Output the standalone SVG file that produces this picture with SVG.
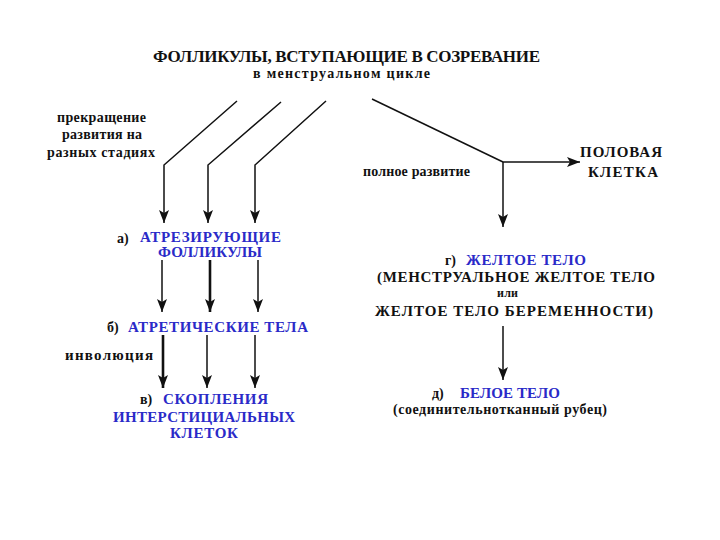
<svg xmlns="http://www.w3.org/2000/svg" width="720" height="540" viewBox="0 0 720 540" font-family="'Liberation Serif', 'DejaVu Serif', serif">
<defs>
<style>
text{font-family:'Liberation Serif','DejaVu Serif',serif;font-weight:700;fill:#111;}
.b{fill:#2a2ac8;}
.ln{fill:none;stroke:#111;stroke-width:1.5;}
.th{stroke-width:2.6;}
</style>
<marker id="ah" viewBox="0 0 13 10" refX="13" refY="5" markerWidth="13" markerHeight="10" markerUnits="userSpaceOnUse" orient="auto">
<path d="M0,0 L13,5 L0,10 L3,5 z" fill="#111"/>
</marker>
</defs>
<rect width="720" height="540" fill="#fff"/>

<g id="title">
<text x="153" y="62" font-size="17" textLength="387">ФОЛЛИКУЛЫ, ВСТУПАЮЩИЕ В СОЗРЕВАНИЕ</text>
<text x="253" y="78" font-size="14" textLength="177">в менструальном цикле</text>
</g>

<g id="note-stop">
<text x="57" y="122" font-size="14" textLength="89">прекращение</text>
<text x="62" y="139" font-size="14" textLength="80">развития на</text>
<text x="47" y="157" font-size="14" textLength="108">разных стадиях</text>
</g>

<g id="node-a">
<text x="117" y="243" font-size="14">а)</text>
<text class="b" x="140" y="242" font-size="15" textLength="141">АТРЕЗИРУЮЩИЕ</text>
<text class="b" x="158" y="257" font-size="15" textLength="104">ФОЛЛИКУЛЫ</text>
</g>

<g id="node-b">
<text x="107" y="332" font-size="14">б)</text>
<text class="b" x="128" y="332" font-size="15" textLength="180">АТРЕТИЧЕСКИЕ ТЕЛА</text>
</g>

<g id="note-involution">
<text x="65" y="360" font-size="15" textLength="88">инволюция</text>
</g>

<g id="node-c">
<text x="140" y="404" font-size="14">в)</text>
<text class="b" x="163" y="404" font-size="15" textLength="105">СКОПЛЕНИЯ</text>
<text class="b" x="113" y="422" font-size="15" textLength="182">ИНТЕРСТИЦИАЛЬНЫХ</text>
<text class="b" x="170" y="438" font-size="15" textLength="68">КЛЕТОК</text>
</g>

<g id="note-full">
<text x="363" y="176" font-size="14" textLength="107">полное развитие</text>
</g>

<g id="node-germ">
<text x="580" y="157" font-size="15" textLength="82">ПОЛОВАЯ</text>
<text x="588" y="177" font-size="15" textLength="70">КЛЕТКА</text>
</g>

<g id="node-g">
<text x="445" y="265" font-size="14">г)</text>
<text class="b" x="466" y="265" font-size="15" textLength="120">ЖЕЛТОЕ ТЕЛО</text>
<text x="377" y="282" font-size="15" textLength="278">(МЕНСТРУАЛЬНОЕ ЖЕЛТОЕ ТЕЛО</text>
<text x="497" y="297" font-size="12" textLength="21">или</text>
<text x="375" y="316" font-size="15" textLength="278">ЖЕЛТОЕ ТЕЛО БЕРЕМЕННОСТИ)</text>
</g>

<g id="node-d">
<text x="432" y="398" font-size="14">д)</text>
<text class="b" x="460" y="398" font-size="15" textLength="100">БЕЛОЕ ТЕЛО</text>
<text x="393" y="414" font-size="14" textLength="214">(соединительнотканный рубец)</text>
</g>

<g id="connectors">
<polyline class="ln" points="237,101 164,165 164,223" marker-end="url(#ah)"/>
<polyline class="ln" points="281,102 208,165 208,223" marker-end="url(#ah)"/>
<polyline class="ln" points="326,101 255,165 255,223" marker-end="url(#ah)"/>
<line class="ln" x1="372" y1="99" x2="503" y2="162"/>
<line class="ln" x1="503" y1="162" x2="580" y2="162" marker-end="url(#ah)"/>
<line class="ln" x1="503" y1="162" x2="503" y2="227" marker-end="url(#ah)"/>
<line class="ln" x1="162" y1="260" x2="162" y2="312" marker-end="url(#ah)"/>
<line class="ln th" x1="210" y1="260" x2="210" y2="312" marker-end="url(#ah)"/>
<line class="ln" x1="258" y1="260" x2="258" y2="312" marker-end="url(#ah)"/>
<line class="ln th" x1="163" y1="335" x2="163" y2="388" marker-end="url(#ah)"/>
<line class="ln" x1="207" y1="335" x2="207" y2="388" marker-end="url(#ah)"/>
<line class="ln" x1="255" y1="335" x2="255" y2="388" marker-end="url(#ah)"/>
<line class="ln" x1="503" y1="326" x2="503" y2="380" marker-end="url(#ah)"/>
</g>
</svg>
